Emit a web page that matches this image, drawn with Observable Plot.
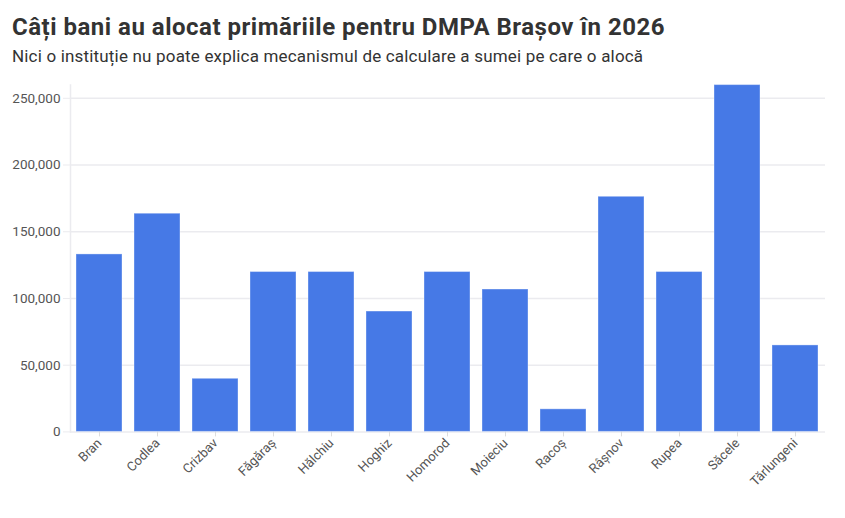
<!DOCTYPE html>
<html>
<head>
<meta charset="utf-8">
<script src="https://cdn.jsdelivr.net/npm/d3@7"></script>
<script src="https://cdn.jsdelivr.net/npm/@observablehq/plot@0.6"></script>
<style>
  body { margin: 0; background: #fff; font-family: Roboto, "Noto Sans", sans-serif; }
  #wrap { position: relative; width: 845px; height: 518px; }
  #title { position: absolute; left: 12px; top: 15px; font-size: 24px; line-height: 1; font-weight: 700; color: #333; white-space: nowrap; letter-spacing: 0.5px; }
  #subtitle { position: absolute; left: 12px; top: 47.5px; font-size: 17px; line-height: 1; color: #333; white-space: nowrap; letter-spacing: 0.18px; }
  #chart { position: absolute; left: 0; top: 70px; }
</style>
</head>
<body>
<div id="wrap">
  <div id="title">Câți bani au alocat primăriile pentru DMPA Brașov în 2026</div>
  <div id="subtitle">Nici o instituție nu poate explica mecanismul de calculare a sumei pe care o alocă</div>
  <div id="chart"></div>
</div>
<script>
const localities = ["Bran", "Codlea", "Crizbav", "Făgăraș", "Hălchiu", "Hoghiz", "Homorod", "Moieciu", "Racoș", "Râșnov", "Rupea", "Săcele", "Tărlungeni"];
const amounts = [133000, 163500, 39800, 119800, 119800, 90200, 119800, 106700, 16900, 176200, 119800, 259900, 64800];
const yTicks = [0, 50000, 100000, 150000, 200000, 250000];

const data = localities.map((name, i) => ({name, value: amounts[i]}));
const fmt = d3.format(",");
const grid = "#ebebef";

const chart = Plot.plot({
  width: 845,
  height: 440,
  marginLeft: 70,
  marginRight: 20,
  marginTop: 14.6,
  marginBottom: 78.6,
  style: { fontFamily: "Roboto, 'Noto Sans', sans-serif", fontSize: "12px", color: "#555", background: "transparent" },
  x: { domain: localities, paddingInner: 0.2, paddingOuter: 0.1, label: null },
  y: { domain: [0, 259900], label: null },
  marks: [
    Plot.gridY(yTicks, { stroke: grid, strokeOpacity: 1, strokeWidth: 1.5 }),
    Plot.frame({ anchor: "left", stroke: grid, strokeWidth: 1.5 }),
    Plot.axisY(yTicks, { tickFormat: fmt, tickSize: 7, tickPadding: 3, stroke: grid, strokeOpacity: 1, fill: "#555", fontSize: 13.5, label: null }),
    Plot.axisX({ tickSize: 5, tickPadding: 4, tickRotate: -45, stroke: "#ddd", fill: "#555", fontSize: 13, label: null }),
    Plot.barY(data, { x: "name", y: "value", fill: "#4679e6", stroke: "#fff", strokeOpacity: 0.35, strokeWidth: 1 })
  ]
});
document.getElementById("chart").appendChild(chart);
</script>
</body>
</html>
